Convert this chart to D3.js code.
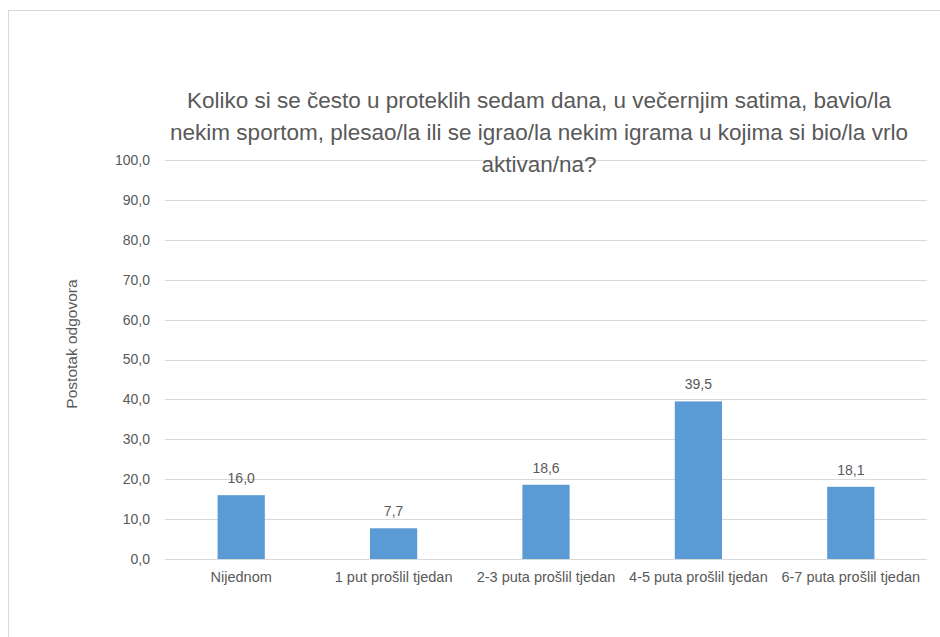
<!DOCTYPE html>
<html>
<head>
<meta charset="utf-8">
<script src="https://cdn.jsdelivr.net/npm/d3@7"></script>
<style>
  body { margin: 0; background: #fff; }
  text { font-family: "Liberation Sans", Arial, sans-serif; fill: #595959; }
</style>
</head>
<body>
<svg id="chart" width="940" height="637"></svg>
<script>
// data
var categories = ["Nijednom", "1 put prošlil tjedan", "2-3 puta prošlil tjedan", "4-5 puta prošlil tjedan", "6-7 puta prošlil tjedan"];
var values = [16.0, 7.7, 18.6, 39.5, 18.1];
var yTicks = [0, 10, 20, 30, 40, 50, 60, 70, 80, 90, 100];
var titleLines = [
    "Koliko si se često u proteklih sedam dana, u večernjim satima, bavio/la",
    "nekim sportom, plesao/la ili se igrao/la nekim igrama u kojima si bio/la vrlo",
    "aktivan/na?"
];
var yTitle = "Postotak odgovora";

(function () {
    var svg = d3.select("#chart");
    var fmt = function (v) { return v.toFixed(1).replace(".", ","); };

    // chart frame
    svg.append("rect")
        .attr("x", 8.5).attr("y", 10.5)
        .attr("width", 940).attr("height", 640)
        .attr("fill", "none").attr("stroke", "#d9d9d9");

    var plotLeft = 165, plotRight = 927, plotTop = 160, plotBottom = 559;

    var x = d3.scaleBand().domain(categories).range([plotLeft, plotRight]).paddingInner(0.69).paddingOuter(0.345);
    var y = d3.scaleLinear().domain([0, 100]).range([plotBottom, plotTop]);

    /* gridlines */
    svg.append("g").selectAll("line").data(yTicks).join("line")
        .attr("x1", plotLeft).attr("x2", plotRight)
        .attr("y1", function (d) { return Math.round(y(d)) + 0.5; })
        .attr("y2", function (d) { return Math.round(y(d)) + 0.5; })
        .attr("stroke", "#d9d9d9").attr("stroke-width", 1);

    /* y axis labels */
    var yAxis = svg.append("g")
        .attr("transform", "translate(" + (plotLeft - 10) + ",0)")
        .call(d3.axisLeft(y).tickValues(yTicks).tickFormat(fmt).tickSize(0).tickPadding(5));
    yAxis.select(".domain").remove();
    yAxis.selectAll("text").style("font-size", "14px").attr("fill", "#595959").attr("font-family", null);

    /* x axis labels */
    var xAxis = svg.append("g")
        .attr("transform", "translate(0," + plotBottom + ")")
        .call(d3.axisBottom(x).tickSize(0).tickPadding(13));
    xAxis.select(".domain").remove();
    xAxis.selectAll("text").style("font-size", "14.5px").attr("fill", "#595959").attr("font-family", null);

    /* bars */
    svg.append("g").selectAll("rect").data(values).join("rect")
        .attr("x", function (d, i) { return x(categories[i]); })
        .attr("y", function (d) { return y(d); })
        .attr("width", x.bandwidth())
        .attr("height", function (d) { return plotBottom - y(d); })
        .attr("fill", "#5b9bd5");

    /* value labels */
    svg.append("g").selectAll("text").data(values).join("text")
        .attr("x", function (d, i) { return x(categories[i]) + x.bandwidth() / 2; })
        .attr("y", function (d) { return y(d) - 12; })
        .attr("text-anchor", "middle")
        .style("font-size", "14px")
        .text(fmt);

    /* title */
    svg.append("g").selectAll("text").data(titleLines).join("text")
        .attr("x", 539)
        .attr("y", function (d, i) { return 108 + i * 32; })
        .attr("text-anchor", "middle")
        .style("font-size", "22.5px")
        .text(function (d) { return d; });

    /* y axis title */
    svg.append("text")
        .attr("transform", "translate(77,344) rotate(-90)")
        .attr("text-anchor", "middle")
        .style("font-size", "15.5px")
        .text(yTitle);
})();
</script>
</body>
</html>
